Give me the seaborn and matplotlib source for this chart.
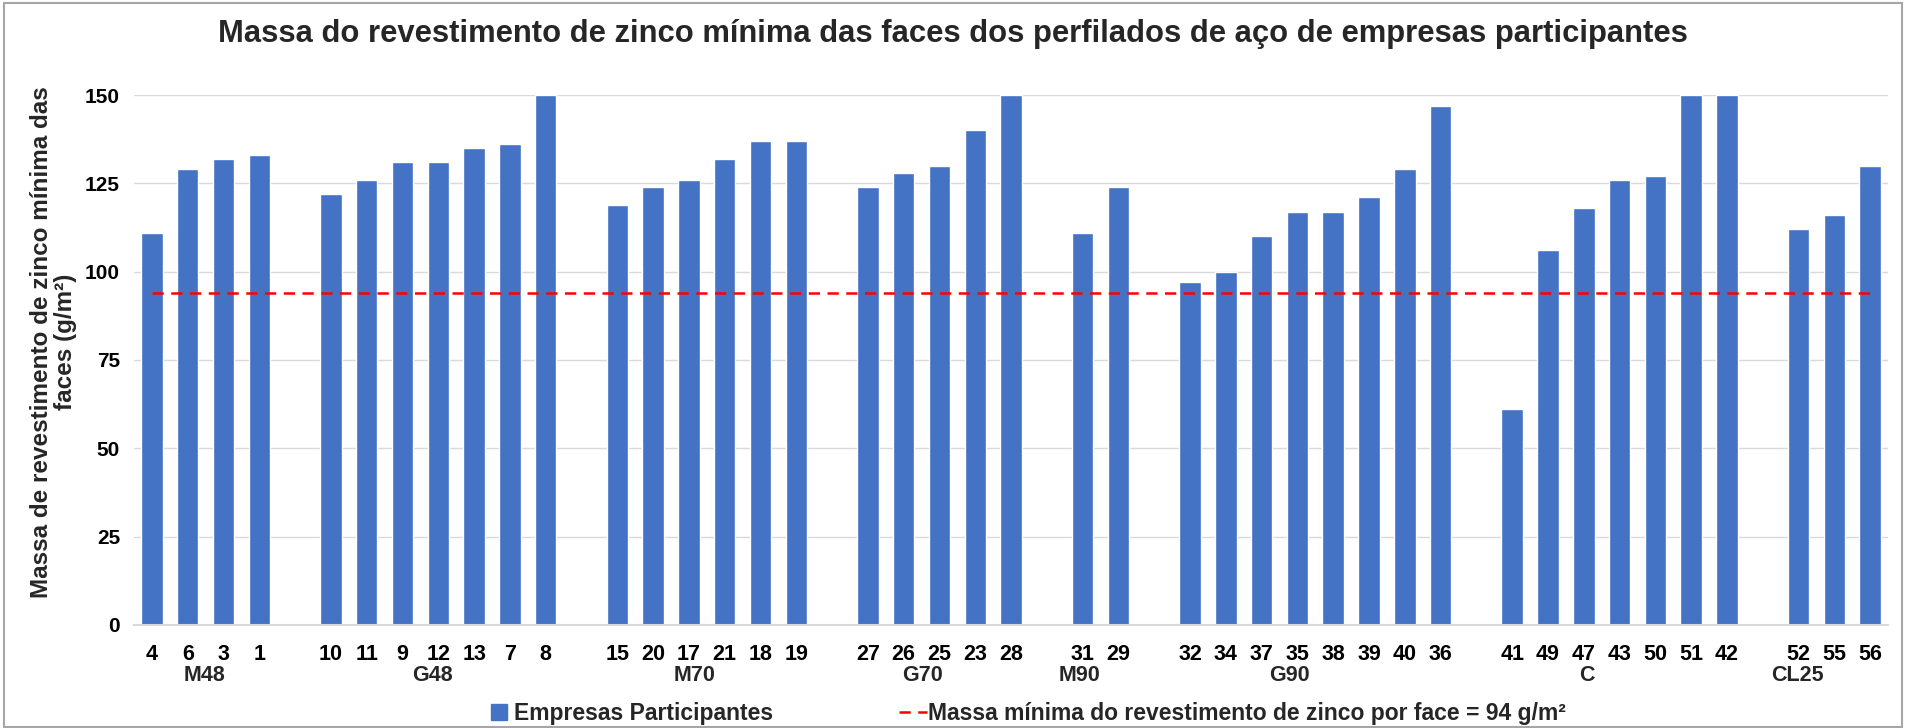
import numpy as np
import pandas as pd
import matplotlib
matplotlib.use("Agg")
import matplotlib.pyplot as plt
from matplotlib.lines import Line2D
from matplotlib.patches import Rectangle
import seaborn as sns

# dados
grupos = ["M48", "G48", "M70", "G70", "M90", "G90", "C", "CL25"]
empresas = [
    ["4", "6", "3", "1"],
    ["10", "11", "9", "12", "13", "7", "8"],
    ["15", "20", "17", "21", "18", "19"],
    ["27", "26", "25", "23", "28"],
    ["31", "29"],
    ["32", "34", "37", "35", "38", "39", "40", "36"],
    ["41", "49", "47", "43", "50", "51", "42"],
    ["52", "55", "56"],
]
massas = [
    [111, 129, 132, 133],
    [122, 126, 131, 131, 135, 136, 150],
    [119, 124, 126, 132, 137, 137],
    [124, 128, 130, 140, 150],
    [111, 124],
    [97, 100, 110, 117, 117, 121, 129, 147],
    [61, 106, 118, 126, 127, 150, 150],
    [112, 116, 130],
]
limite = 94

AZUL = "#4472C4"

sns.set_theme(style="white")
plt.rcParams["font.family"] = ["Liberation Sans", "DejaVu Sans"]
plt.rcParams["font.weight"] = "bold"

# tabela + ordem com uma categoria vazia entre grupos (como no Excel)
linhas = []
ordem = []
centros = []
for g, (emps, vals) in enumerate(zip(empresas, massas)):
    if g > 0:
        ordem.append(f"_gap{g}")
    inicio = len(ordem)
    for e, v in zip(emps, vals):
        linhas.append({"grupo": grupos[g], "empresa": e, "massa": v})
        ordem.append(e)
    centros.append((inicio + len(ordem) - 1) / 2)
df = pd.DataFrame(linhas)

fig = plt.figure(figsize=(19.06, 7.28), dpi=100)
ax = fig.add_axes([0.0703, 0.1415, 0.9203, 0.728])

sns.barplot(data=df, x="empresa", y="massa", order=ordem, color=AZUL,
            saturation=1, width=0.6, ax=ax, zorder=2)

# linha do limite mínimo, do primeiro ao último ponto
pos = np.arange(len(ordem))
sns.lineplot(x=[pos[0], pos[-1]], y=[limite, limite], color="#FF0000",
             linewidth=1.8, ax=ax, zorder=3)
ax.lines[-1].set_linestyle((0, (4.5, 3)))

ax.set_xlim(-0.5, len(ordem) - 0.5)
ax.set_ylim(0, 150)
ax.set_yticks(range(0, 151, 25))
ax.yaxis.grid(True, color="#D9D9D9", linewidth=1)
ax.set_axisbelow(True)
for s in ["top", "right", "left"]:
    ax.spines[s].set_visible(False)
ax.spines["bottom"].set_color("#D9D9D9")
ax.spines["bottom"].set_linewidth(1.5)

ax.set_xticks(pos)
ax.set_xticklabels(["" if o.startswith("_gap") else o for o in ordem])
ax.tick_params(axis="x", length=0, pad=14, labelsize=15.5)
ax.tick_params(axis="y", length=0, pad=10, labelsize=15)
for lbl in ax.get_xticklabels() + ax.get_yticklabels():
    lbl.set_fontweight("bold")
    lbl.set_color("black")

# rótulos de grupo (no original ficam ligeiramente à esquerda do centro)
for c, g in zip(centros, grupos):
    ax.text(c * 0.978, -0.096, g, transform=ax.get_xaxis_transform(), ha="center",
            va="center", fontsize=15.5, fontweight="bold")

ax.set_xlabel("")
ax.set_ylabel("Massa de revestimento de zinco mínima das\nfaces (g/m²)",
              fontsize=17.5, fontweight="bold", linespacing=1.05)
ax.yaxis.set_label_coords(-0.0325, 0.534)

fig.suptitle("Massa do revestimento de zinco mínima das faces dos perfilados de aço de empresas participantes",
             fontsize=22.3, fontweight="bold", y=0.953, va="center")

handles = [
    Line2D([], [], marker="s", linestyle="none", markersize=11,
           markerfacecolor=AZUL, markeredgecolor=AZUL),
    Line2D([], [], color="#FF0000", linewidth=1.8, linestyle=(0, (4.5, 3))),
]
fig.legend(handles, ["Empresas Participantes",
                     "Massa mínima do revestimento de zinco por face = 94 g/m²"],
           loc="center", bbox_to_anchor=(0.538, 0.02), ncol=2, frameon=False,
           fontsize=16.5, handlelength=1.2, handletextpad=0.05, columnspacing=5.5)

fig.patches.append(Rectangle((0.002, 0.002), 0.996, 0.994, transform=fig.transFigure,
                             fill=False, edgecolor="#A6A6A6", linewidth=1.5))

fig.savefig("out.png", dpi=100)
